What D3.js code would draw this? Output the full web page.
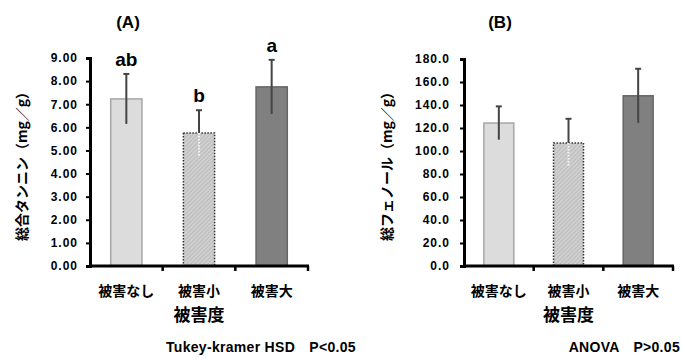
<!DOCTYPE html>
<html>
<head>
<meta charset="utf-8">
<script src="https://cdn.jsdelivr.net/npm/d3@7"></script>
<style>
  body { margin: 0; background: #fff; }
  svg { display: block; font-family: "Liberation Sans", Arial, "Noto Sans CJK JP", sans-serif; }
  .tick text { font-weight: bold; font-size: 12px; letter-spacing: 1px; fill: #000; }
  .cat { font-family: "Noto Sans CJK JP", sans-serif; font-weight: bold; font-size: 14px; }
  .note { font-weight: bold; font-size: 14px; letter-spacing: 0.3px; }
</style>
</head>
<body>
<div id="chart"></div>
<script>
// categories and values
var categories = ["被害なし", "被害小", "被害大"];
var tanninMean = [7.23, 5.76, 7.75];
var tanninSd = [1.08, 0.98, 1.17];
var tanninLetters = ["ab", "b", "a"];
var phenolMean = [124.3, 107.0, 148.0];
var phenolSd = [14.5, 21.0, 23.5];
var tanninTicks = [0, 1, 2, 3, 4, 5, 6, 7, 8, 9];
var phenolTicks = [0, 20, 40, 60, 80, 100, 120, 140, 160, 180];

var barFill = ["#dcdcdc", "url(#hatch)", "#808080"];
var barStroke = ["#a6a6a6", "#333", "#666"];
var barDash = [null, "1.5,1.5", null];
var lowerStroke = ["#444", "#f4f4f4", "#444"];

var svg = d3.select("#chart").append("svg")
    .attr("width", 682)
    .attr("height", 361);

//diagonal hatch for the middle bar
var pat = svg.append("defs").append("pattern")
    .attr("id", "hatch")
    .attr("patternUnits", "userSpaceOnUse")
    .attr("width", 3).attr("height", 3)
    .attr("patternTransform", "rotate(45)");
pat.append("rect").attr("width", 3).attr("height", 3).attr("fill", "#cfcfcf");
pat.append("line").attr("x1", 0).attr("y1", 0).attr("x2", 0).attr("y2", 3)
    .attr("stroke", "#b0b0b0").attr("stroke-width", 1.2);

function drawPanel(opt){
    var g = svg.append("g");
    var x = d3.scaleBand().domain(categories)
        .range([opt.left, opt.right])
        .paddingInner(0.57).paddingOuter(0.285);
    var y = d3.scaleLinear().domain(opt.domain).range([266, opt.top]);

    //bars
    g.selectAll("rect.bar").data(categories).enter().append("rect")
        .attr("class", "bar")
        .attr("x", function(d){ return x(d); })
        .attr("width", x.bandwidth())
        .attr("y", function(d, i){ return y(opt.mean[i]); })
        .attr("height", function(d, i){ return y(0) - y(opt.mean[i]); })
        .attr("fill", function(d, i){ return barFill[i]; })
        .attr("stroke", function(d, i){ return barStroke[i]; })
        .attr("stroke-width", 1.5)
        .attr("stroke-dasharray", function(d, i){ return barDash[i]; });

    //error bars
    var cx = function(d){ return x(d) + x.bandwidth() / 2; };
    g.selectAll("line.up").data(categories).enter().append("line")
        .attr("x1", cx).attr("x2", cx)
        .attr("y1", function(d, i){ return y(opt.mean[i]); })
        .attr("y2", function(d, i){ return y(opt.mean[i] + opt.sd[i]); })
        .attr("stroke", "#444").attr("stroke-width", 2);
    g.selectAll("line.low").data(categories).enter().append("line")
        .attr("x1", cx).attr("x2", cx)
        .attr("y1", function(d, i){ return y(opt.mean[i]); })
        .attr("y2", function(d, i){ return y(opt.mean[i] - opt.sd[i]); })
        .attr("stroke", function(d, i){ return lowerStroke[i]; })
        .attr("stroke-dasharray", function(d, i){ return i == 1 ? "1.5,1.5" : null; })
        .attr("stroke-width", 2);
    g.selectAll("line.cap").data(categories).enter().append("line")
        .attr("x1", function(d){ return cx(d) - 3; })
        .attr("x2", function(d){ return cx(d) + 3; })
        .attr("y1", function(d, i){ return y(opt.mean[i] + opt.sd[i]); })
        .attr("y2", function(d, i){ return y(opt.mean[i] + opt.sd[i]); })
        .attr("stroke", "#444").attr("stroke-width", 2);

    //significance letters
    if(opt.letters){
        g.selectAll("text.letter").data(categories).enter().append("text")
            .attr("x", cx)
            .attr("y", function(d, i){ return y(opt.mean[i] + opt.sd[i]) - 8; })
            .attr("text-anchor", "middle")
            .style("font-weight", "bold").style("font-size", "19px")
            .text(function(d, i){ return opt.letters[i]; });
    }

    //y axis
    var yAxis = d3.axisLeft(y).tickValues(opt.ticks)
        .tickFormat(d3.format(opt.fmt)).tickSize(4).tickPadding(opt.pad);
    var ya = g.append("g").attr("transform", "translate(" + opt.left + ",0)").call(yAxis);
    ya.select(".domain").attr("stroke", "#000").attr("stroke-width", 3);
    ya.selectAll(".tick line").attr("stroke", "#000").attr("stroke-width", 2);

    //x axis line with category boundary ticks
    g.append("line")
        .attr("x1", opt.left - 1).attr("x2", opt.right + 1)
        .attr("y1", y(0)).attr("y2", y(0))
        .attr("stroke", "#000").attr("stroke-width", 3);
    g.selectAll("line.xt").data(categories).enter().append("line")
        .attr("x1", function(d){ return x(d) + x.bandwidth() / 2 + x.step() / 2; })
        .attr("x2", function(d){ return x(d) + x.bandwidth() / 2 + x.step() / 2; })
        .attr("y1", y(0)).attr("y2", y(0) + 5)
        .attr("stroke", "#000").attr("stroke-width", 2.5);

    g.selectAll("text.cat").data(categories).enter().append("text")
        .attr("class", "cat")
        .attr("x", cx).attr("y", 296)
        .attr("text-anchor", "middle")
        .text(function(d){ return d; });

    g.append("text").attr("class", "cat")
        .attr("x", (opt.left + opt.right) / 2).attr("y", 321)
        .attr("text-anchor", "middle").style("font-size", "17px")
        .text("被害度");

    g.append("text").attr("class", "cat")
        .attr("transform", "translate(" + opt.titleX + ",163) rotate(-90)")
        .attr("text-anchor", "middle").style("font-size", "14px")
        .text(opt.ylabel);

    g.append("text")
        .attr("x", opt.panelX).attr("y", 28)
        .attr("text-anchor", "middle")
        .style("font-weight", "bold").style("font-size", "17px")
        .text(opt.panel);
}

drawPanel({left: 90, right: 308, top: 58, domain: [0, 9], ticks: tanninTicks, fmt: ".2f", pad: 8,
    mean: tanninMean, sd: tanninSd, letters: tanninLetters,
    ylabel: "総合タンニン（mg／g）", titleX: 27, panel: "(A)", panelX: 128});
drawPanel({left: 464, right: 673, top: 59, domain: [0, 180], ticks: phenolTicks, fmt: ".1f", pad: 10,
    mean: phenolMean, sd: phenolSd, letters: null,
    ylabel: "総フェノール（mg／g）", titleX: 392, panel: "(B)", panelX: 500});

svg.append("text").attr("class", "note").attr("x", 166).attr("y", 352)
    .text("Tukey-kramer HSD　P<0.05");
svg.append("text").attr("class", "note").attr("x", 680).attr("y", 352)
    .attr("text-anchor", "end")
    .text("ANOVA　P>0.05");
</script>
</body>
</html>
